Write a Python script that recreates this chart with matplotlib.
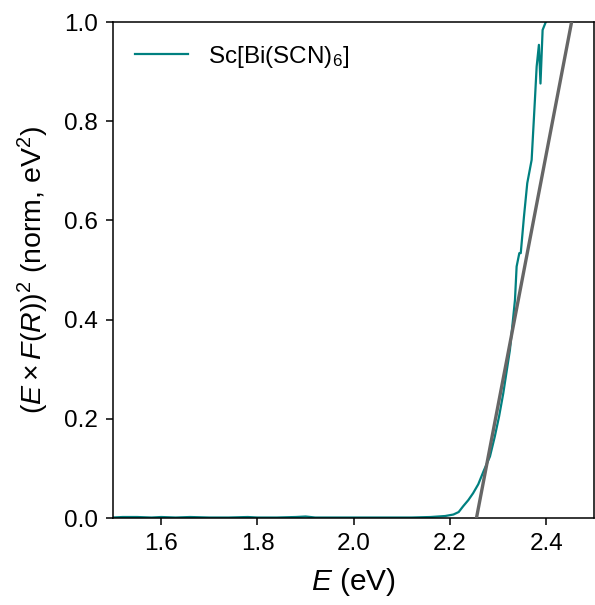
import numpy as np
import matplotlib
matplotlib.use("Agg")
import matplotlib.pyplot as plt

plt.rcParams['font.family'] = ['Liberation Sans', 'DejaVu Sans']
plt.rcParams['mathtext.fontset'] = 'custom'
plt.rcParams['mathtext.rm'] = 'Liberation Sans'
plt.rcParams['mathtext.it'] = 'Liberation Sans:italic'

# Kubelka-Munk Tauc data
energy = [1.50, 1.52, 1.55, 1.58, 1.60, 1.63, 1.66, 1.70, 1.74, 1.78, 1.80,
          1.84, 1.88, 1.90, 1.92, 1.96, 2.00, 2.04, 2.08, 2.12, 2.16, 2.19,
          2.207, 2.218, 2.2276, 2.238, 2.248, 2.2587, 2.270, 2.283, 2.293,
          2.302, 2.3106, 2.3245, 2.335, 2.3384, 2.344, 2.347, 2.3536, 2.3605,
          2.3696, 2.3764, 2.380, 2.3847, 2.388, 2.3924, 2.399, 2.405]
tauc = [0.001, 0.002, 0.002, 0.001, 0.002, 0.001, 0.002, 0.001, 0.001, 0.002,
        0.001, 0.001, 0.002, 0.003, 0.001, 0.001, 0.001, 0.001, 0.001, 0.001,
        0.002, 0.004, 0.007, 0.012, 0.024, 0.036, 0.050, 0.068, 0.095, 0.124,
        0.164, 0.205, 0.251, 0.339, 0.440, 0.507, 0.534, 0.534, 0.607, 0.675,
        0.722, 0.843, 0.910, 0.954, 0.876, 0.984, 1.000, 1.03]

# linear fit of the absorption edge
fit_x = [2.255, 2.4526]
fit_y = [0.0, 1.0]

fig = plt.figure(figsize=(5.95, 6.05), dpi=100)
ax = fig.add_axes([0.19, 0.1438, 0.809, 0.8198])

ax.plot(energy, tauc, color='#008080', lw=1.6, label=r'Sc[Bi(SCN)$_6$]', zorder=2)
ax.plot(fit_x, fit_y, color='#666666', lw=2.4, zorder=3)

ax.set_xlim(1.5, 2.5)
ax.set_ylim(0, 1.0)
ax.set_xticks([1.6, 1.8, 2.0, 2.2, 2.4])
ax.set_yticks([0.0, 0.2, 0.4, 0.6, 0.8, 1.0])
ax.tick_params(labelsize=17.5, length=5, width=1.1, pad=6)
for s in ax.spines.values():
    s.set_linewidth(1.1)

ax.set_xlabel(r'$E$ (eV)', fontsize=21.5, labelpad=8)
ax.set_ylabel(r'$(E \times F(R))^2$ (norm, eV$^2$)', fontsize=20.5, labelpad=9)
ax.legend(loc='upper left', frameon=False, fontsize=17.5, handlelength=2.2)

fig.savefig('out.png', dpi=100)
